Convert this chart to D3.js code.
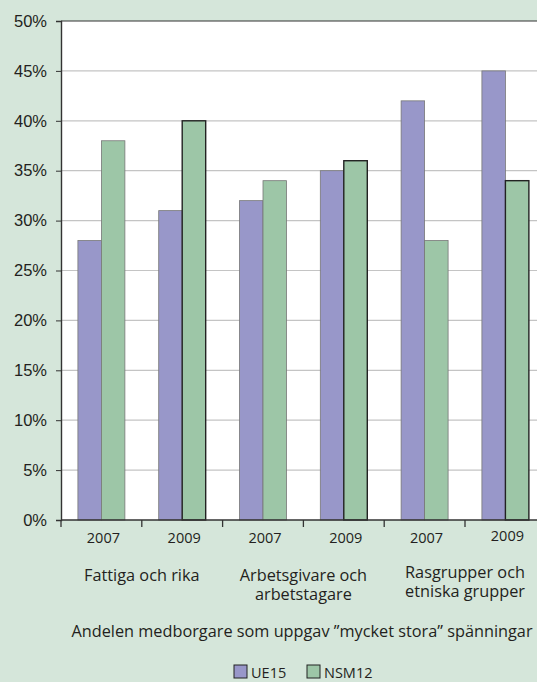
<!DOCTYPE html>
<html>
<head>
<meta charset="utf-8">
<script src="https://cdn.jsdelivr.net/npm/d3@7"></script>
<style>
	body { margin: 0; background: #d5e6da; }
	svg { display: block; font-family: 'Open Sans', sans-serif; }
	.axis text { fill: #231f20; }
</style>
</head>
<body>
<svg id="chart"></svg>
<script>
const GROUPS = [['Fattiga och rika'], ['Arbetsgivare och', 'arbetstagare'], ['Rasgrupper och', 'etniska grupper']];
const YEARS = ['2007', '2009'];
const SERIES = ['UE15', 'NSM12'];
const UE15 = [28, 31, 32, 35, 42, 45];
const NSM12 = [38, 40, 34, 36, 28, 34];
const Y_TICKS = [0, 5, 10, 15, 20, 25, 30, 35, 40, 45, 50];
const AXIS_TITLE = 'Andelen medborgare som uppgav \u201dmycket stora\u201d spänningar';

const COLORS = ['#9897c9', '#9dc6a7'];

const SVG_WIDTH = 537;
const SVG_HEIGHT = 682;
const MARGIN = { top: 21, left: 61 };
const SLOT = 80.8;
const HEIGHT = 499;

const slots = d3.range(UE15.length);

const x = d3.scaleBand()
	.domain(slots)
	.range([0, SLOT * slots.length]);

const xInner = d3.scaleBand()
	.domain(SERIES)
	.range([0, x.bandwidth()])
	.paddingOuter(0.72)
	.paddingInner(0);

const y = d3.scaleLinear().domain([0, 50]).range([HEIGHT, 0]);

const root = d3.select('#chart')
	.attr('width', SVG_WIDTH)
	.attr('height', SVG_HEIGHT);

const svg = root.append('g')
	.attr('transform', 'translate(' + MARGIN.left + ', ' + MARGIN.top + ')');

// plot background
svg.append('rect')
	.attr('width', x.range()[1])
	.attr('height', HEIGHT)
	.attr('fill', '#fff');

// grid
svg.append('g')
	.selectAll('line')
	.data(Y_TICKS.filter(d => d > 0 && d < 50))
	.enter()
	.append('line')
		.attr('x1', 0)
		.attr('x2', x.range()[1])
		.attr('y1', d => y(d))
		.attr('y2', d => y(d))
		.attr('stroke', '#c4c4c4')
		.attr('stroke-width', 1.2);

// top border
svg.append('line')
	.attr('x1', 0)
	.attr('x2', x.range()[1])
	.attr('y1', 0)
	.attr('y2', 0)
	.attr('stroke', '#333')
	.attr('stroke-width', 1.2);

// bars
const rows = slots.map(i => ({ i: i, values: [UE15[i], NSM12[i]] }));

const slotG = svg.selectAll('.slot')
	.data(rows)
	.enter()
	.append('g')
		.attr('class', 'slot')
		.attr('transform', d => 'translate(' + x(d.i) + ', 0)');

slotG.selectAll('rect')
	.data(d => d.values.map((v, k) => ({ v: v, k: k, i: d.i })))
	.enter()
	.append('rect')
		.attr('x', d => xInner(SERIES[d.k]))
		.attr('y', d => y(d.v))
		.attr('width', xInner.bandwidth())
		.attr('height', d => y(0) - y(d.v))
		.attr('fill', d => COLORS[d.k])
		.attr('stroke', d => (d.k === 1 && d.i % 2 === 1) ? '#222' : '#777')
		.attr('stroke-width', d => (d.k === 1 && d.i % 2 === 1) ? 1.4 : 0.8);

// Y-Axis
const yAxis = svg.append('g')
	.attr('class', 'axis')
	.call(d3.axisLeft(y).tickValues(Y_TICKS).tickFormat(d => d + '%').tickSize(5).tickPadding(9));
yAxis.select('.domain').attr('stroke', '#333').attr('stroke-width', 1.4);
yAxis.selectAll('.tick line').attr('stroke', '#333');
yAxis.selectAll('text').style('font-size', '16.5px');

// X-Axis
const xAxis = svg.append('g')
	.attr('class', 'axis')
	.attr('transform', 'translate(0, ' + HEIGHT + ')');

xAxis.append('line')
	.attr('x1', 0)
	.attr('x2', x.range()[1])
	.attr('stroke', '#333')
	.attr('stroke-width', 1.4);

xAxis.selectAll('.xtick')
	.data(slots.concat([slots.length]))
	.enter()
	.append('line')
		.attr('x1', d => d * x.step())
		.attr('x2', d => d * x.step())
		.attr('y1', 0)
		.attr('y2', 7)
		.attr('stroke', '#333')
		.attr('stroke-width', 1.3);

xAxis.selectAll('.year')
	.data(slots)
	.enter()
	.append('text')
		.attr('x', d => x(d) + x.bandwidth() / 2 + 2)
		.attr('y', d => d === slots.length - 1 ? 21 : 23)
		.attr('text-anchor', 'middle')
		.style('font-size', '14.5px')
		.text(d => YEARS[d % 2]);

const groupText = xAxis.selectAll('.group')
	.data(GROUPS)
	.enter()
	.append('text')
		.attr('text-anchor', 'middle')
		.attr('transform', (d, i) => 'translate(' + (x(i * 2) + x.step()) + ', ' + (i === 2 ? 58 : 61) + ')')
		.style('font-size', '16.3px');

groupText.selectAll('tspan')
	.data(d => d)
	.enter()
	.append('tspan')
		.attr('x', 0)
		.attr('dy', (d, i) => i === 0 ? 0 : 19)
		.text(d => d);

// axis title
root.append('text')
	.attr('x', 302)
	.attr('y', 637)
	.attr('text-anchor', 'middle')
	.style('font-size', '16.3px')
	.attr('fill', '#231f20')
	.text(AXIS_TITLE);

// legend
const legend = root.append('g')
	.attr('transform', 'translate(234, 665)');

const legendItem = legend.selectAll('g')
	.data(SERIES)
	.enter()
	.append('g')
		.attr('transform', (d, i) => 'translate(' + (i * 73) + ', 0)');

legendItem.append('rect')
	.attr('width', 13)
	.attr('height', 13)
	.attr('fill', (d, i) => COLORS[i])
	.attr('stroke', '#222')
	.attr('stroke-width', 1);

legendItem.append('text')
	.attr('x', 17)
	.attr('y', 13)
	.style('font-size', '14.5px')
	.attr('fill', '#231f20')
	.text(d => d);
</script>
</body>
</html>
